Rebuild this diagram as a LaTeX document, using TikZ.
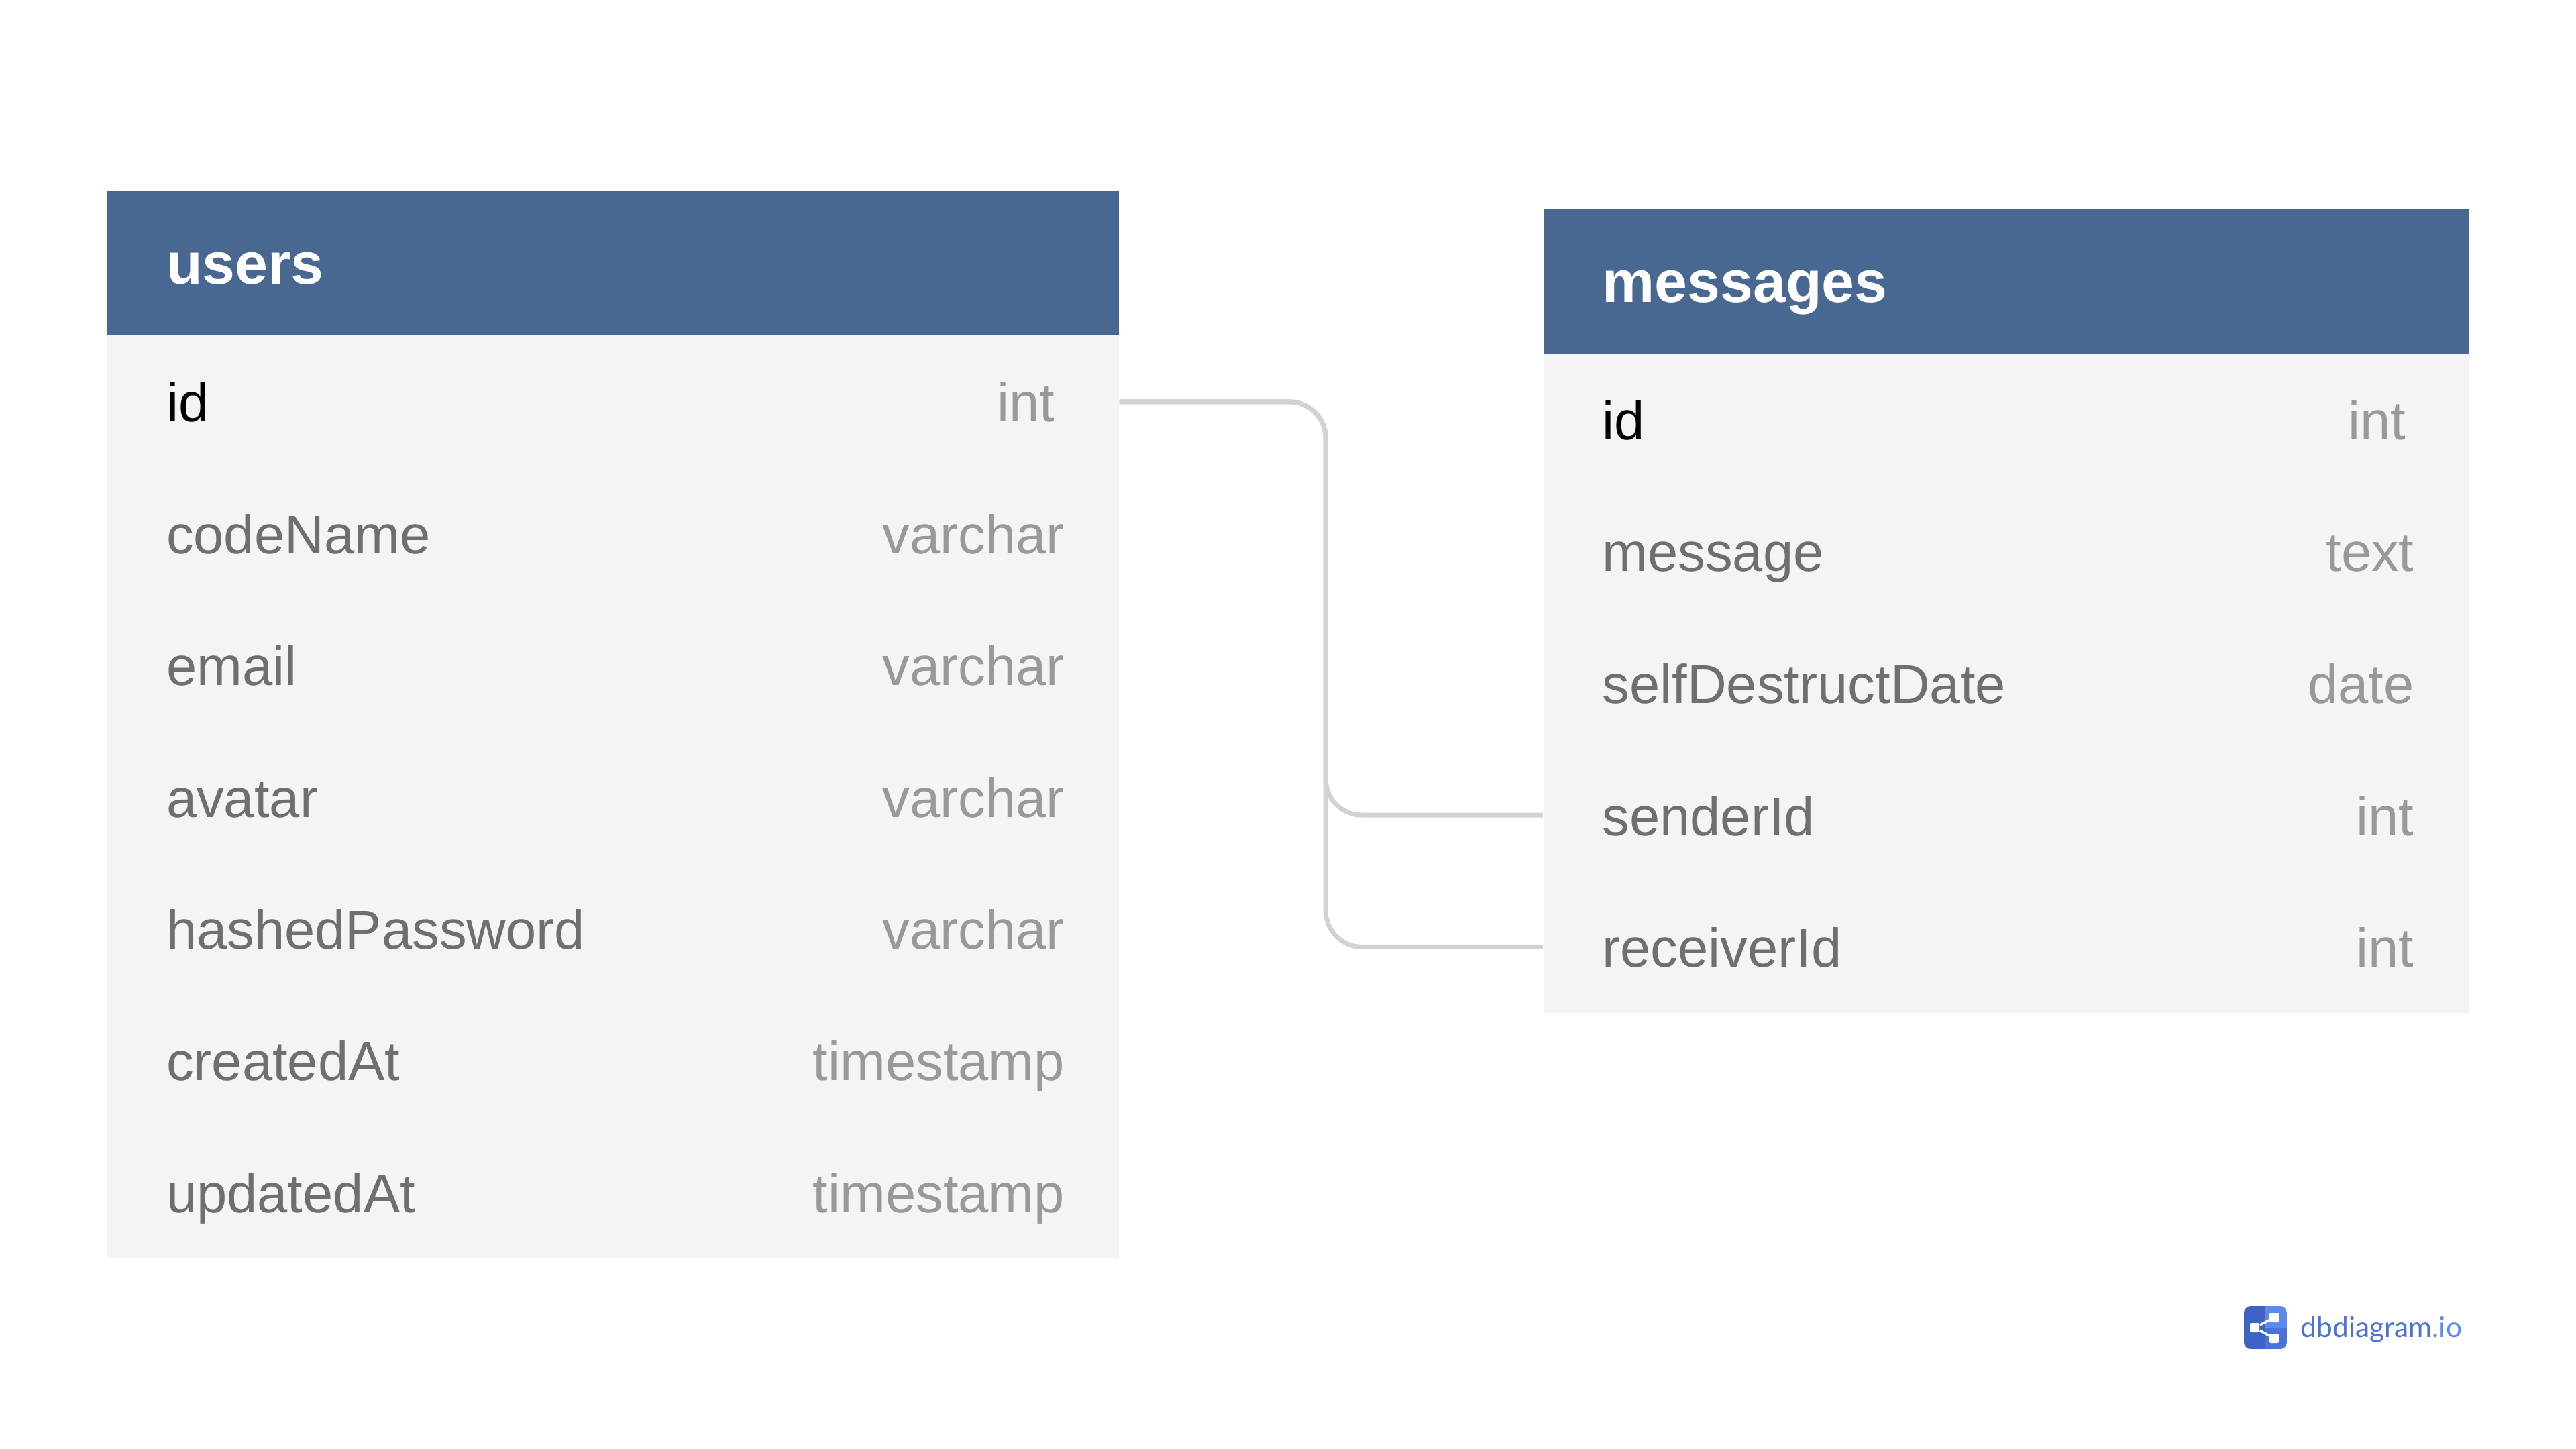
\documentclass[tikz,border=0pt]{standalone}
\usepackage{fontspec}
\setmainfont{Liberation Sans}
\newfontfamily\logofont{Lato}
\usetikzlibrary{positioning}
\definecolor{header_blue}{HTML}{486892}
\definecolor{row_grey}{HTML}{F4F4F4}
\definecolor{name_grey}{HTML}{6F6F6F}
\definecolor{type_grey}{HTML}{999999}
\definecolor{line_grey}{HTML}{D2D2D2}
\definecolor{logo_dark}{HTML}{3F63C4}
\definecolor{logo_mid}{HTML}{4A72D8}
\definecolor{logo_light}{HTML}{5C88F2}

\begin{document}
\begin{tikzpicture}[
table_header/.style={rectangle, fill=header_blue, text=white, inner xsep=0.88cm, inner ysep=0pt, minimum height=2.166cm, align=left, text height=0.64cm, text depth=0pt, font=\fontsize{25pt}{28pt}\selectfont\bfseries},
field_row/.style={rectangle, fill=row_grey, text=name_grey, inner xsep=0.88cm, inner ysep=0pt, minimum height=1.97cm, align=left, text height=0.6cm, text depth=0pt, font=\fontsize{23.15pt}{27pt}\selectfont},
users_width/.style={text width=13.32cm},
messages_width/.style={text width=12.04cm},
type_text/.style={text=type_grey, inner sep=0pt, text height=0.6cm, text depth=0pt, font=\fontsize{23.15pt}{27pt}\selectfont},
relation/.style={draw=line_grey, line width=0.07cm, rounded corners=0.54cm},
logo_part/.style={rectangle, fill=white, rounded corners=0.02cm, inner sep=0pt, minimum size=0.14cm},
logo_link/.style={draw=white, line width=0.035cm}
]

\useasboundingbox (0,0) rectangle (38.4,-21.6);

\node[table_header, users_width](users) at (9.14,-3.92) {users};
\node[field_row, users_width, text=black](users_id) at (9.14,-5.988) {id};
\node[field_row, users_width](users_codeName) at (9.14,-7.952) {codeName};
\node[field_row, users_width](users_email) at (9.14,-9.916) {email};
\node[field_row, users_width](users_avatar) at (9.14,-11.88) {avatar};
\node[field_row, users_width](users_hashedPassword) at (9.14,-13.844) {hashedPassword};
\node[field_row, users_width](users_createdAt) at (9.14,-15.808) {createdAt};
\node[field_row, users_width](users_updatedAt) at (9.14,-17.772) {updatedAt};

\node[type_text, left=0.96cm of users_id.east](users_id_type) {int};
\node[type_text, left=0.81cm of users_codeName.east](users_codeName_type) {varchar};
\node[type_text, left=0.81cm of users_email.east](users_email_type) {varchar};
\node[type_text, left=0.81cm of users_avatar.east](users_avatar_type) {varchar};
\node[type_text, left=0.81cm of users_hashedPassword.east](users_hashedPassword_type) {varchar};
\node[type_text, left=0.81cm of users_createdAt.east](users_createdAt_type) {timestamp};
\node[type_text, left=0.81cm of users_updatedAt.east](users_updatedAt_type) {timestamp};

\node[table_header, messages_width](messages) at (29.905,-4.19) {messages};
\node[field_row, messages_width, text=black](messages_id) at (29.905,-6.252) {id};
\node[field_row, messages_width](messages_message) at (29.905,-8.216) {message};
\node[field_row, messages_width](messages_selfDestructDate) at (29.905,-10.18) {selfDestructDate};
\node[field_row, messages_width](messages_senderId) at (29.905,-12.15) {senderId};
\node[field_row, messages_width](messages_receiverId) at (29.905,-14.114) {receiverId};

\node[type_text, left=0.94cm of messages_id.east](messages_id_type) {int};
\node[type_text, left=0.82cm of messages_message.east](messages_message_type) {text};
\node[type_text, left=0.82cm of messages_selfDestructDate.east](messages_selfDestructDate_type) {date};
\node[type_text, left=0.82cm of messages_senderId.east](messages_senderId_type) {int};
\node[type_text, left=0.82cm of messages_receiverId.east](messages_receiverId_type) {int};

\coordinate (bus) at (19.76,-9);

\draw[relation](users_id.east) -| (bus) |- (messages_senderId.west);
\draw[relation](users_id.east) -| (bus) |- (messages_receiverId.west);

% logo
\begin{scope}
\clip[rounded corners=0.1cm] (33.45,-19.47) rectangle (34.09,-20.11);
\fill[logo_dark] (33.45,-19.47) rectangle (33.76,-20.11);
\fill[logo_light] (33.76,-19.47) rectangle (34.09,-19.79);
\fill[logo_mid] (33.76,-19.79) rectangle (34.09,-20.11);
\end{scope}
\node[logo_part](logo_left) at (33.61,-19.79) {};
\node[logo_part](logo_top) at (33.90,-19.64) {};
\node[logo_part](logo_bottom) at (33.90,-19.95) {};
\draw[logo_link](logo_left) -- (logo_top);
\draw[logo_link](logo_left) -- (logo_bottom);

\node[anchor=base west, inner sep=0pt, text=logo_mid, font=\logofont\fontsize{12.1pt}{14pt}\selectfont](logo_text) at (34.29,-19.93) {dbdiagram\textcolor{logo_light}{.io}};

\end{tikzpicture}
\end{document}
